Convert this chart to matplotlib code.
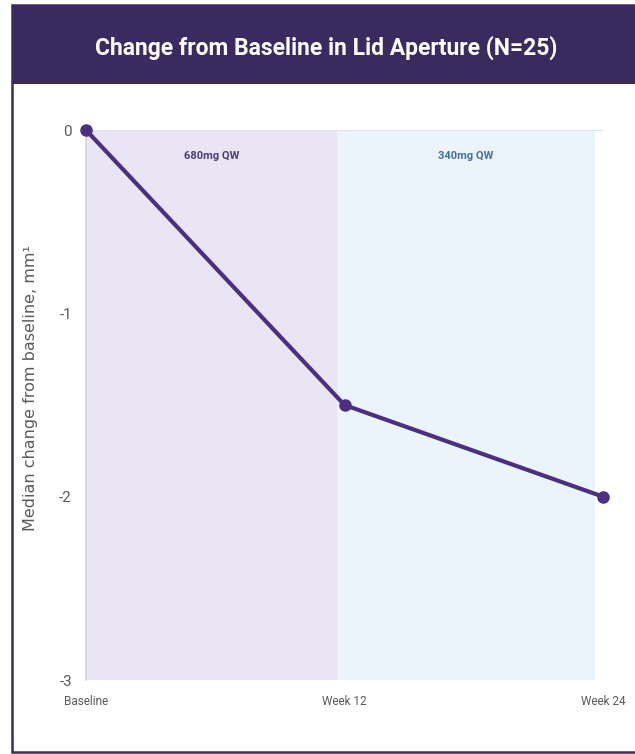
import matplotlib
matplotlib.use("Agg")
import matplotlib.pyplot as plt
from matplotlib.patches import Rectangle

# ── Data ────────────────────────────────────────────────────────────────────
timepoints = ["Baseline", "Week 12", "Week 24"]
median_change = [0.0, -1.5, -2.0]
phase_labels = ["680mg QW", "340mg QW"]
phase_bounds = [0, 0.97, 1.97]    # phase edges on the timepoint index axis
y_ticks = [0, -1, -2, -3]

# ── Styling ─────────────────────────────────────────────────────────────────
NARROW = ["Liberation Sans Narrow", "Roboto", "DejaVu Sans"]
PURPLE_DARK = "#3b2a5f"
LINE_COLOR = "#4a2f82"
PHASE_FILL = ["#e9e5f3", "#ebf3fb"]
PHASE_TEXT = ["#4b3c7a", "#3f72a4"]
GREY = "#5a5a5a"

plt.rcParams["font.family"] = ["Liberation Sans", "DejaVu Sans"]

W, H = 635, 754
fig = plt.figure(figsize=(W / 100, H / 100), dpi=100)

# card frame and header band (kept behind the axes)
fig.patches.append(Rectangle((12 / W, 2 / H), 1.0, 1 - 7 / H, transform=fig.transFigure,
                             facecolor="white", edgecolor=PURPLE_DARK, linewidth=1.8,
                             zorder=-2))
fig.patches.append(Rectangle((12 / W, 1 - 84 / H), 1.0, 79 / H, transform=fig.transFigure,
                             facecolor=PURPLE_DARK, edgecolor="none", zorder=-1))
fig.text(326 / W, 1 - 48 / H, "Change from Baseline in Lid Aperture (N=25)",
         ha="center", va="center", color="white", fontsize=16.5, fontweight="bold",
         family=NARROW)

ax = fig.add_axes([86 / W, 1 - 680 / H, (603 - 86) / W, (680 - 130) / H])
ax.patch.set_alpha(0)
x = list(range(len(timepoints)))

for i, (lab, fc, tc) in enumerate(zip(phase_labels, PHASE_FILL, PHASE_TEXT)):
    lo, hi = phase_bounds[i], phase_bounds[i + 1]
    ax.axvspan(lo, hi, color=fc, zorder=0, linewidth=0)
    ax.text((lo + hi) / 2, -0.14, lab, ha="center", va="center", color=tc,
            fontsize=8, fontweight="bold", family=NARROW)

ax.axhline(0, color="#dcdcdc", linewidth=1.2, zorder=1)
ax.plot(x, median_change, color=LINE_COLOR, linewidth=3, marker="o",
        markersize=8, clip_on=False, zorder=3)

ax.set_xlim(0, 2)
ax.set_ylim(-3, 0)
ax.set_xticks(x)
ax.set_xticklabels(timepoints, family=NARROW, fontsize=8.5, color=GREY)
ax.set_yticks(y_ticks)
ax.set_yticklabels([str(v) for v in y_ticks], family=NARROW, fontsize=11, color=GREY)
ax.tick_params(axis="both", length=0)
ax.tick_params(axis="x", pad=11)
ax.tick_params(axis="y", pad=10)

for s in ["top", "right", "bottom"]:
    ax.spines[s].set_visible(False)
ax.spines["left"].set_color("#d4d4d4")
ax.spines["left"].set_linewidth(1.2)

ax.set_ylabel("Median change from baseline, mm\u00b9", fontsize=11.5, color=GREY,
              family="DejaVu Sans")
ax.yaxis.set_label_coords(-0.093, 0.53)

fig.savefig("out.png", dpi=100)
